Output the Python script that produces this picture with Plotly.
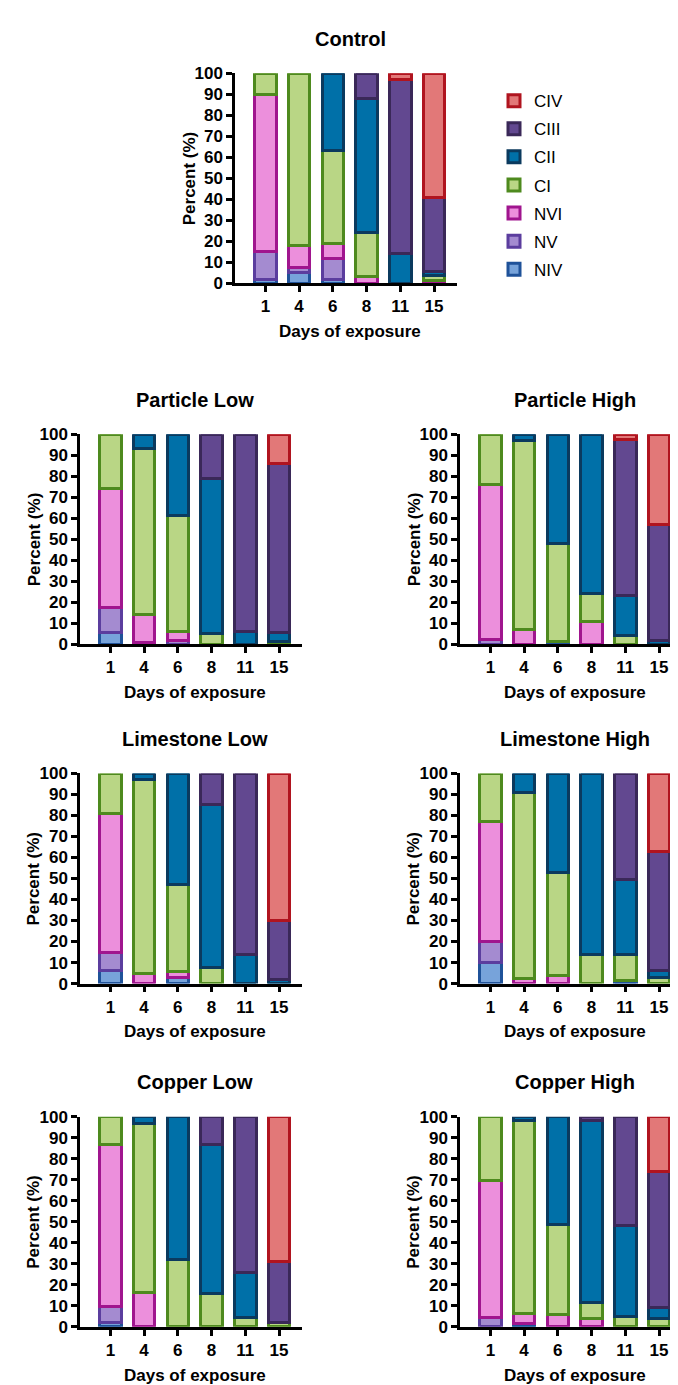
import plotly.graph_objects as go

days = ["1", "4", "6", "8", "11", "15"]
stages = ["NIV", "NV", "NVI", "CI", "CII", "CIII", "CIV"]
fill_colors = ["#77A3DA", "#A48BD0", "#EC8FDC", "#B9D685", "#0070A8", "#624890", "#E27878"]
edge_colors = ["#1F5299", "#5B3D9E", "#A0158E", "#4E8A1E", "#0B3A5E", "#3A2858", "#B0141F"]
panel_titles = ["Control", "Particle Low", "Particle High", "Limestone Low",
                "Limestone High", "Copper Low", "Copper High"]

# rows: NIV, NV, NVI, CI, CII, CIII, CIV ; columns: days 1,4,6,8,11,15
control_vals = [
    [2, 5, 2, 0, 0, 0],
    [13, 2.5, 10, 0, 0, 0],
    [75, 10.5, 7, 3, 0, 1.5],
    [10, 82, 44, 21, 0, 2],
    [0, 0, 37, 64, 14, 2],
    [0, 0, 0, 12, 83, 35.5],
    [0, 0, 0, 0, 3, 59],
]
particle_low_vals = [
    [5.5, 0, 0, 0, 0, 0],
    [12, 1, 2, 0, 0, 0],
    [56.5, 13, 4, 0, 0, 0],
    [26, 79, 55.5, 5, 0, 1.5],
    [0, 7, 38.5, 74, 6, 4],
    [0, 0, 0, 21, 94, 80.5],
    [0, 0, 0, 0, 0, 14],
]
particle_high_vals = [
    [0, 0, 1.5, 0, 0, 0],
    [2.5, 0, 0, 0, 0, 0],
    [73.5, 7, 0, 11, 0, 0],
    [24, 90, 46.5, 13, 4, 0],
    [0, 3, 52, 76, 19, 2],
    [0, 0, 0, 0, 74.5, 55],
    [0, 0, 0, 0, 2.5, 43],
]
limestone_low_vals = [
    [6, 0, 3, 0, 0, 0],
    [9, 0, 0, 0, 0, 0],
    [66, 5, 2.5, 0, 0, 0],
    [19, 92, 41.5, 7.5, 0, 0],
    [0, 3, 53, 77.5, 14, 2],
    [0, 0, 0, 15, 86, 28],
    [0, 0, 0, 0, 0, 70],
]
limestone_high_vals = [
    [10, 0, 0, 0, 1.5, 0],
    [10, 0, 0, 0, 0, 0],
    [57, 2.5, 4, 0, 0, 0],
    [23, 88.5, 49, 14, 12.5, 3],
    [0, 9, 47, 86, 35.5, 3],
    [0, 0, 0, 0, 50.5, 57],
    [0, 0, 0, 0, 0, 37],
]
copper_low_vals = [
    [2, 0, 0, 0, 0, 0],
    [7.5, 0, 0, 0, 0, 0],
    [77.5, 16.5, 0, 0, 0, 0],
    [13, 80.5, 32, 16, 4.5, 2],
    [0, 3, 68, 71, 21.5, 0],
    [0, 0, 0, 13, 74, 29],
    [0, 0, 0, 0, 0, 69],
]
copper_high_vals = [
    [0, 1.5, 0, 0, 0, 0],
    [4.5, 0, 0, 0, 0, 0],
    [65, 5, 6, 4, 0, 0],
    [30.5, 91.5, 42.5, 7.5, 5, 4],
    [0, 2, 51.5, 86.5, 43, 5],
    [0, 0, 0, 2, 52, 65],
    [0, 0, 0, 0, 0, 26],
]

panels = [control_vals, particle_low_vals, particle_high_vals, limestone_low_vals,
          limestone_high_vals, copper_low_vals, copper_high_vals]

W, H = 678, 1385
# pixel boxes (left, right, top, bottom) of each plot area
boxes = [
    (227, 449, 57, 270),
    (72, 294, 423, 636),
    (452, 674, 423, 636),
    (72, 294, 767, 980),
    (452, 674, 767, 980),
    (72, 294, 1115, 1328),
    (452, 674, 1115, 1328),
]

FONT = "Liberation Sans, Arial, sans-serif"
fig = go.Figure()

for p, vals in enumerate(panels):
    ax = "" if p == 0 else str(p + 1)
    for s, stage in enumerate(stages):
        y = [v if v else None for v in vals[s]]
        fig.add_trace(go.Bar(
            x=days, y=y, name=stage, legendgroup=stage, showlegend=(p == 0),
            legendrank=100 - s,
            marker=dict(color=fill_colors[s], line=dict(color=edge_colors[s], width=3)),
            width=0.64, cliponaxis=False,
            xaxis="x" + ax, yaxis="y" + ax,
        ))

annotations = []
layout_axes = {}
for p, (l, r, t, b) in enumerate(boxes):
    ax = "" if p == 0 else str(p + 1)
    layout_axes["xaxis" + ax] = dict(
        domain=[l / W, r / W], anchor="y" + ax, type="category",
        range=[-0.9, 5.68], showgrid=False, zeroline=False,
        showline=True, linecolor="black", linewidth=2.5,
        ticks="outside", ticklen=6, tickwidth=2.5, tickcolor="black",
        tickfont=dict(family=FONT, size=17, color="black", weight="bold"),
        fixedrange=True,
    )
    layout_axes["yaxis" + ax] = dict(
        domain=[1 - b / H, 1 - t / H], anchor="x" + ax,
        range=[0, 100], dtick=10, showgrid=False, zeroline=False,
        showline=True, linecolor="black", linewidth=2.5,
        ticks="outside", ticklen=6, tickwidth=2.5, tickcolor="black",
        tickfont=dict(family=FONT, size=17, color="black", weight="bold"),
        fixedrange=True,
    )
    cx = (l + r) / 2 + 4
    annotations.append(dict(
        text=panel_titles[p], x=cx / W, y=1 - (t - 35) / H, xref="paper", yref="paper",
        showarrow=False, xanchor="center", yanchor="middle",
        font=dict(family=FONT, size=20, color="black", weight="bold"),
    ))
    annotations.append(dict(
        text="Days of exposure", x=cx / W, y=1 - (b + 49) / H, xref="paper", yref="paper",
        showarrow=False, xanchor="center", yanchor="middle",
        font=dict(family=FONT, size=17, color="black", weight="bold"),
    ))
    annotations.append(dict(
        text="Percent (%)", x=(l - 46) / W, y=1 - ((t + b) / 2) / H, xref="paper", yref="paper",
        showarrow=False, xanchor="center", yanchor="middle", textangle=-90,
        font=dict(family=FONT, size=17, color="black", weight="bold"),
    ))

fig.update_layout(
    width=W, height=H, margin=dict(l=0, r=0, t=0, b=0),
    paper_bgcolor="white", plot_bgcolor="white",
    barmode="stack", showlegend=True,
    legend=dict(x=486 / W, y=1 - 67 / H, xanchor="left", yanchor="top",
                traceorder="grouped", tracegroupgap=3,
                font=dict(family=FONT, size=17, color="black"),
                bgcolor="rgba(0,0,0,0)"),
    annotations=annotations,
    **layout_axes,
)

fig.write_html("out.html")
